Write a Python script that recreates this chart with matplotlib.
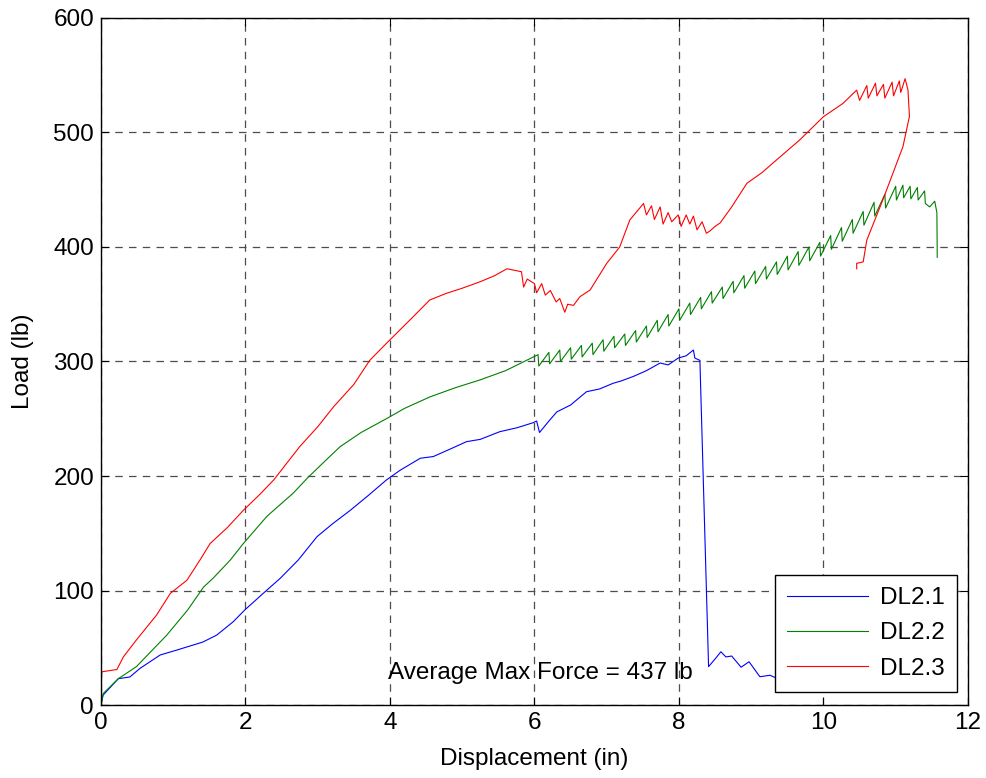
import matplotlib
matplotlib.use("Agg")
import matplotlib.pyplot as plt

plt.rcParams['font.family'] = ['Liberation Sans', 'DejaVu Sans']

# DL2.1 (blue)
x1 = [0.0, 0.03, 0.24, 0.40, 0.54, 0.82, 1.05, 1.41, 1.60, 1.83, 1.99, 2.29, 2.48,
      2.73, 2.99, 3.20, 3.45, 3.70, 3.95, 4.14, 4.42, 4.60, 4.85, 5.06, 5.25, 5.52,
      5.75, 5.98, 6.03, 6.07, 6.20, 6.31, 6.50, 6.72, 6.90, 7.09, 7.20, 7.37, 7.55,
      7.74, 7.85, 7.99, 8.10, 8.20, 8.22, 8.29, 8.41, 8.51, 8.58, 8.65, 8.73, 8.86,
      8.97, 9.12, 9.26, 9.40, 9.60]
y1 = [0, 8.7, 23, 24.5, 32, 43.7, 48, 55, 61, 72.7, 83, 100, 110.6,
      126.6, 147, 158, 170, 183, 196.5, 205, 215.5, 217, 224, 230, 232, 238.7,
      242, 246.5, 248, 238, 248, 256, 262, 273.6, 276, 281, 283, 287, 292,
      298.7, 297, 303, 305, 310, 303, 301, 33.5, 41, 46.5, 42, 42.8, 33,
      37.8, 24.7, 26, 22, 20]

# DL2.2 (green)
x2 = [0.0, 0.03, 0.24, 0.49, 0.91, 1.20, 1.42, 1.55, 1.79, 1.97, 2.30, 2.66, 2.87,
      3.10, 3.31, 3.60, 3.95, 4.20, 4.55, 4.90, 5.25, 5.60, 5.89,
      6.05, 6.06, 6.20, 6.21, 6.35, 6.36, 6.50, 6.51, 6.65, 6.66, 6.80, 6.81,
      6.95, 6.96, 7.10, 7.11, 7.25, 7.26, 7.40, 7.41, 7.55, 7.56, 7.70, 7.71,
      7.85, 7.86, 8.00, 8.01, 8.15, 8.16, 8.30, 8.31, 8.45, 8.46, 8.60, 8.61,
      8.75, 8.76, 8.90, 8.91, 9.05, 9.06, 9.20, 9.21, 9.35, 9.36, 9.50, 9.51,
      9.65, 9.66, 9.80, 9.81, 9.95, 9.96, 10.10, 10.11, 10.25, 10.26, 10.40, 10.41,
      10.55, 10.56, 10.70, 10.71, 10.85, 10.86, 11.00, 11.01, 11.10, 11.11,
      11.20, 11.21, 11.30, 11.31, 11.40, 11.41, 11.47, 11.54, 11.57, 11.575]
y2 = [0, 10, 23, 33.5, 61, 83, 103, 110.6, 126.6, 141, 165, 185, 199,
      213, 225.6, 238, 250, 259, 269, 277, 284, 292, 301,
      306, 296, 308, 298, 310, 300, 312, 302, 314, 304, 316, 306,
      319, 309, 322, 312, 324, 314, 327, 317, 331, 321, 336, 326,
      341, 331, 346, 336, 351, 341, 356, 346, 361, 351, 365, 355,
      370, 360, 375, 364, 379, 368, 383, 372, 387, 376, 392, 380,
      396, 384, 400, 388, 404, 392, 410, 398, 417, 405, 424, 412,
      431, 419, 439, 427, 446, 434, 453, 441, 454, 443,
      453, 442, 452, 441, 449, 438, 435, 440, 430, 391]

# DL2.3 (red)
x3 = [0.0, 0.01, 0.22, 0.31, 0.49, 0.77, 0.96, 1.19, 1.37, 1.51, 1.75, 1.97, 2.20,
      2.39, 2.75, 3.00, 3.22, 3.50, 3.72, 3.95, 4.32, 4.55, 4.78, 5.00, 5.25, 5.45,
      5.62, 5.82, 5.85, 5.90, 6.00, 6.03, 6.10, 6.15, 6.22, 6.30, 6.35, 6.42, 6.46,
      6.54, 6.63, 6.77, 7.00, 7.18, 7.32, 7.51, 7.55, 7.62, 7.66, 7.74, 7.78, 7.85,
      7.90, 7.99, 8.03, 8.10, 8.15, 8.20, 8.25, 8.32, 8.38, 8.43, 8.50, 8.57, 8.73,
      8.94, 9.15, 9.35, 9.67, 10.00, 10.27, 10.46, 10.50, 10.60, 10.62, 10.72, 10.74,
      10.83, 10.85, 10.95, 10.97, 11.05, 11.07, 11.13, 11.17, 11.19, 11.10, 10.83,
      10.60, 10.55, 10.46, 10.46]
y3 = [0, 29, 31, 42, 56.8, 78.6, 97.5, 109, 126.6, 141, 155, 170, 184,
      196.5, 225.6, 243, 260.5, 280, 301, 315.8, 339, 353.7, 359.5, 364, 369.7, 375,
      381, 378.4, 365, 372, 368, 360, 368, 358, 362, 352, 355, 343, 350,
      349, 356.6, 362.4, 385.7, 400, 423.6, 438, 428, 436, 424, 435, 420, 430,
      422, 428, 418, 428, 420, 427, 415, 422, 412, 414, 418, 421, 435,
      455.6, 465, 476, 493.4, 513.8, 525.4, 537, 528, 541, 530, 543, 532,
      542, 530, 544, 532, 545, 535, 547, 537, 514, 487.6, 442.4,
      406, 387, 385.7, 381]

fs = 17.5

fig = plt.figure(figsize=(9.87, 7.78), dpi=100)
ax = fig.add_axes([0.1023, 0.0938, 0.8784, 0.8831])

ax.plot(x1, y1, color=(0, 0, 1), lw=0.8, label='DL2.1')
ax.plot(x2, y2, color=(0, 0.5, 0), lw=0.8, label='DL2.2')
ax.plot(x3, y3, color=(1, 0, 0), lw=0.8, label='DL2.3')

ax.set_xlim(0, 12)
ax.set_ylim(0, 600)
ax.set_xticks(range(0, 13, 2))
ax.set_yticks(range(0, 601, 100))
ax.grid(True, color='0.3', linestyle=(0, (6, 5)), linewidth=0.9)
ax.tick_params(direction='in', top=True, right=True, length=6, labelsize=fs, pad=5)
for s in ax.spines.values():
    s.set_linewidth(1.0)

ax.set_xlabel('Displacement (in)', fontsize=fs, labelpad=10)
ax.set_ylabel('Load (lb)', fontsize=fs, labelpad=14)

ax.text(3.97, 28, 'Average Max Force = 437 lb', fontsize=fs, va='center', ha='left')

leg = ax.legend(loc='lower right', bbox_to_anchor=(0.987, 0.019), borderaxespad=0,
                fontsize=fs, handlelength=3.3, handletextpad=0.5, fancybox=False,
                framealpha=1, edgecolor='k', borderpad=0.5, labelspacing=0.55)
leg.get_frame().set_linewidth(1.0)

fig.savefig('out.png', dpi=100)
